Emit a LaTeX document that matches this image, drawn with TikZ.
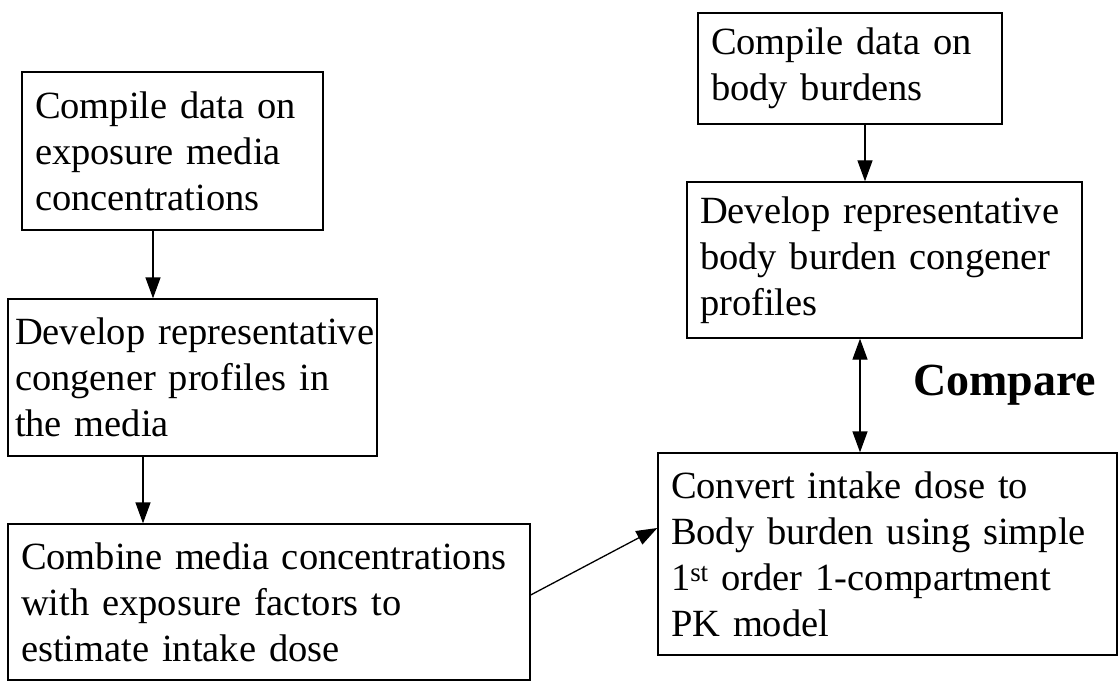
\documentclass[tikz,border=0pt]{standalone}
\usepackage{fontspec}
\setmainfont{Liberation Serif}
\usetikzlibrary{arrows.meta}
\begin{document}
\begin{tikzpicture}[x=1pt,y=1pt,
  stepbox/.style={draw, line width=1.3pt, inner sep=0pt, align=left,
    font=\fontsize{38.5}{46}\selectfont,
    execute at begin node={\hyphenpenalty=10000\exhyphenpenalty=10000}},
  arr/.style={line width=1.3pt, -{Triangle[length=21pt,width=15pt]}},
  darr/.style={line width=1.3pt, {Triangle[length=21pt,width=15pt]}-{Triangle[length=21pt,width=15pt]}}]
\useasboundingbox (0,0) rectangle (1118,-687);
\node[stepbox, minimum width=301pt, minimum height=158pt, text width=275pt] (b1) at (172.5,-151)
  {Compile data on\\exposure media\\concentrations};
\node[stepbox, minimum width=369pt, minimum height=157pt, text width=355pt] (b2) at (192.5,-377.5)
  {\mbox{Develop representative}\\congener profiles in\\the media};
\node[stepbox, minimum width=522pt, minimum height=156pt, text width=496pt] (b3) at (269,-602)
  {Combine media concentrations\\with exposure factors to\\estimate intake dose};
\node[stepbox, minimum width=304pt, minimum height=111pt, text width=278pt] (b4) at (850,-68.5)
  {Compile data on\\body burdens};
\node[stepbox, minimum width=395pt, minimum height=156pt, text width=369pt] (b5) at (884.5,-260)
  {Develop representative\\body burden congener\\profiles};
\node[stepbox, minimum width=459pt, minimum height=202pt, text width=433pt] (b6) at (887.5,-554)
  {Convert intake dose to\\Body burden using simple\\1\textsuperscript{st} order 1-compartment\\PK model};
\node[anchor=base west, inner sep=0pt, font=\fontsize{46}{50}\selectfont\bfseries] (cmp) at (913,-395) {Compare};
\draw[arr] ([xshift=-19.5pt]b1.south) -- ([xshift=-19.5pt]b1.south |- b2.north);
\draw[arr] ([xshift=-49.5pt]b2.south) -- ([xshift=-49.5pt]b2.south |- b3.north);
\draw[arr] ([xshift=15pt]b4.south) -- ([xshift=15pt]b4.south |- b5.north);
\draw[darr] ([xshift=-24.5pt]b5.south) -- ([xshift=-24.5pt]b5.south |- b6.north);
\draw[arr] ([yshift=7pt]b3.east) -- ([yshift=26pt]b6.west);
\end{tikzpicture}
\end{document}
